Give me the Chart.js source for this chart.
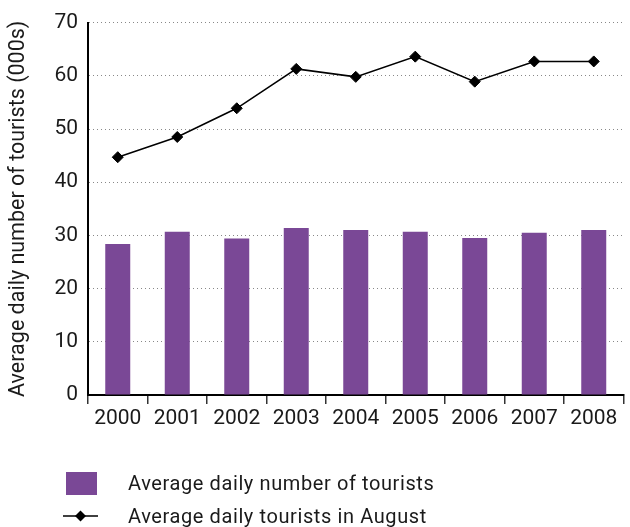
<!DOCTYPE html>
<html>
<head>
<meta charset="utf-8">
<script src="https://cdn.jsdelivr.net/npm/chart.js@4/dist/chart.umd.min.js"></script>
<style>
  html, body { margin: 0; padding: 0; background: #fff; }
  #wrap { position: relative; width: 630px; height: 527px; font-family: Roboto, sans-serif; color: #1a1a1a; }
  #wrap canvas { position: absolute; left: 0; top: 0; }
  .lg { position: absolute; font-size: 20px; letter-spacing: 0.6px; line-height: 22px; white-space: nowrap; }
</style>
</head>
<body>
<div id="wrap">
  <canvas id="c" width="630" height="527"></canvas>
  <div style="position:absolute;left:66px;top:472px;width:31px;height:23px;background:#7a4896;"></div>
  <div class="lg" style="left:128px;top:472px;">Average daily number of tourists</div>
  <svg style="position:absolute;left:60px;top:506px;" width="42" height="20">
    <line x1="3" y1="10" x2="38" y2="10" stroke="#000" stroke-width="1.5"/>
    <polygon points="20.5,4.5 26,10 20.5,15.5 15,10" fill="#000"/>
  </svg>
  <div class="lg" style="left:128px;top:505px;">Average daily tourists in August</div>
</div>
<script>
const years = ['2000','2001','2002','2003','2004','2005','2006','2007','2008'];
const avgDaily = [28.4, 30.7, 29.4, 31.4, 31.0, 30.7, 29.5, 30.5, 31.0];
const augustDaily = [44.7, 48.5, 53.9, 61.3, 59.8, 63.6, 58.9, 62.7, 62.7];
const yTicks = [0, 10, 20, 30, 40, 50, 60, 70];
const yTitle = 'Average daily number of tourists (000s)';
const seriesNames = ['Average daily number of tourists', 'Average daily tourists in August'];

const purple = '#7a4896';
const font = { family: 'Roboto, sans-serif', size: 21 };

new Chart(document.getElementById('c'), {
  data: {
    labels: years,
    datasets: [
      {
        type: 'line', label: seriesNames[1], data: augustDaily, order: 0,
        borderColor: '#000', borderWidth: 1.5, backgroundColor: '#000',
        pointStyle: 'rectRot', pointRadius: 5.5, pointBorderWidth: 1, pointBackgroundColor: '#000',
        tension: 0
      },
      {
        type: 'bar', label: seriesNames[0], data: avgDaily, order: 1,
        backgroundColor: purple, borderWidth: 0,
        categoryPercentage: 1, barPercentage: 0.42
      }
    ]
  },
  options: {
    responsive: false,
    animation: false,
    devicePixelRatio: 1,
    layout: { padding: { top: 22, right: 3, bottom: 92, left: 0 } },
    plugins: { legend: { display: false }, tooltip: { enabled: false } },
    scales: {
      x: {
        offset: true,
        grid: { offset: true, drawOnChartArea: false, drawTicks: true, tickLength: 9, color: '#333', lineWidth: 1.5 },
        border: { display: true, color: '#000', width: 2 },
        ticks: { color: '#1a1a1a', font: font, padding: 2 },
        afterFit: s => { s.height = 40; }
      },
      y: {
        min: 0, max: 70,
        afterBuildTicks: s => { s.ticks = yTicks.map(v => ({ value: v })); },
        grid: { drawTicks: false, color: '#888', lineWidth: 1 },
        border: { display: true, color: '#000', width: 2, dash: [1, 3] },
        ticks: { color: '#1a1a1a', font: font, padding: 10 },
        title: { display: true, text: yTitle, color: '#1a1a1a', font: { family: 'Roboto, sans-serif', size: 21.5 }, padding: { top: 6, bottom: 0 } },
        afterFit: s => { s.width = 88; }
      }
    }
  }
});
</script>
</body>
</html>
